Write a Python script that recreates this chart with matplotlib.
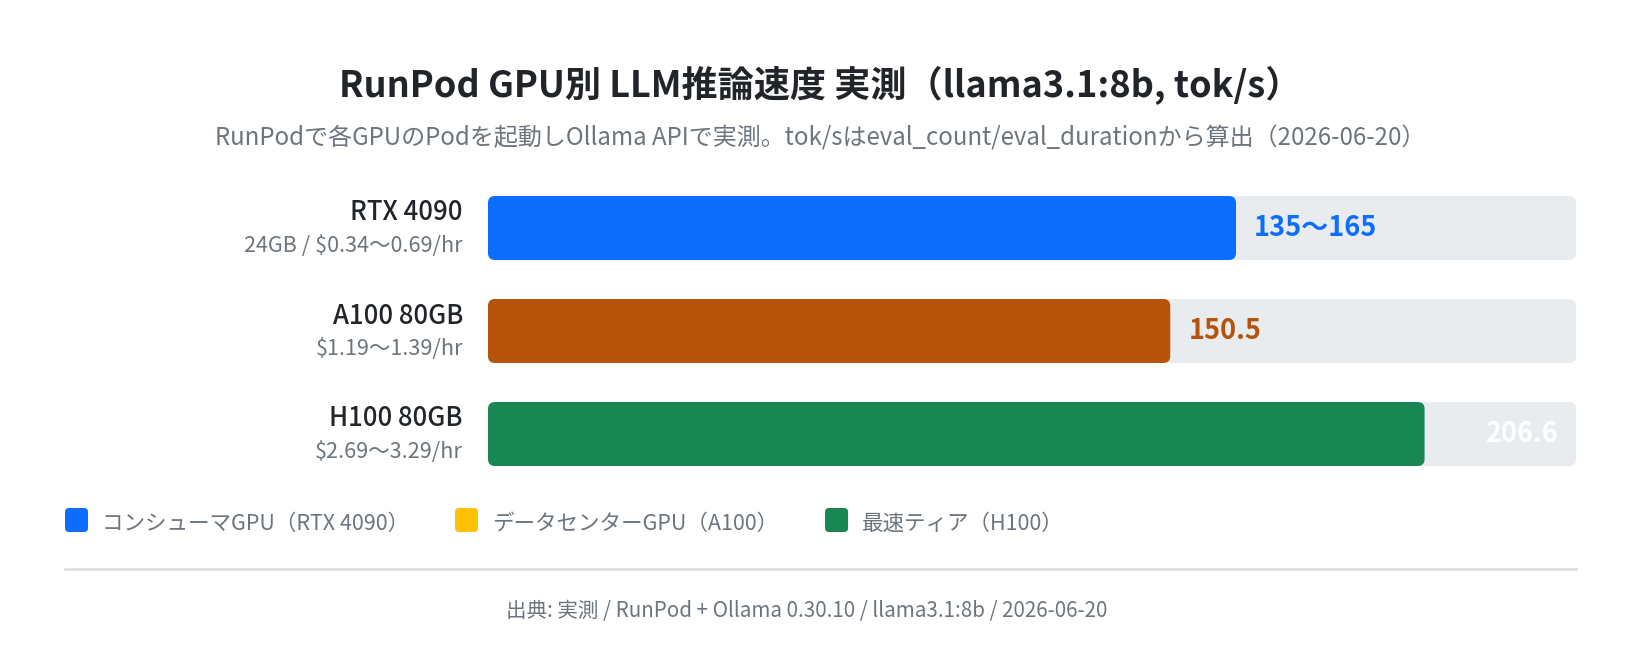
import matplotlib
matplotlib.use("Agg")
import matplotlib.pyplot as plt
from matplotlib.patches import FancyBboxPatch

plt.rcParams['font.family'] = ['Noto Sans CJK JP', 'DejaVu Sans']

# データ
gpus = ["RTX 4090", "A100 80GB", "H100 80GB"]
specs = ["24GB / $0.34〜0.69/hr", "$1.19〜1.39/hr", "$2.69〜3.29/hr"]
speed_min = [135, 150.5, 206.6]
speed_max = [165, 150.5, 206.6]
bar_colors = ["#0d6efd", "#b45309", "#198754"]
legend_labels = ["コンシューマGPU（RTX 4090）", "データセンターGPU（A100）", "最速ティア（H100）"]
legend_colors = ["#0d6efd", "#ffc107", "#198754"]
x_max = 240

title = "RunPod GPU別 LLM推論速度 実測（llama3.1:8b, tok/s）"
subtitle = "RunPodで各GPUのPodを起動しOllama APIで実測。tok/sはeval_count/eval_durationから算出（2026-06-20）"
footer = "出典: 実測 / RunPod + Ollama 0.30.10 / llama3.1:8b / 2026-06-20"

W, H = 1640, 662
fig = plt.figure(figsize=(W / 100, H / 100), dpi=100)
fig.patch.set_facecolor("white")

# 棒グラフ用の軸 (px 488..1576, 196..466)
left, right, top, bottom = 488, 1576, 196, 466
ax = fig.add_axes([left / W, 1 - bottom / H, (right - left) / W, (bottom - top) / H])
row_px = 103
bar_h = 64 / row_px
ax.set_xlim(0, x_max)
ax.set_ylim(len(gpus) - 1 + bar_h / 2, -bar_h / 2)
ax.axis("off")

px_x = (right - left) / x_max  # x 1単位あたりのピクセル


def rounded(bar, color, r=7):
    x, y, w, h = bar.get_x(), bar.get_y(), bar.get_width(), bar.get_height()
    bar.remove()
    rx = r / px_x
    ry = r / row_px
    p = FancyBboxPatch((x, y), w, h,
                       boxstyle=f"round,pad=0,rounding_size={rx}",
                       mutation_aspect=ry / rx,
                       facecolor=color, edgecolor="none")
    ax.add_patch(p)


ypos = list(range(len(gpus)))
tracks = ax.barh(ypos, [x_max] * len(gpus), height=bar_h)
for b in tracks:
    rounded(b, "#e9ecef")
bars = ax.barh(ypos, speed_max, height=bar_h)
for b, c in zip(bars, bar_colors):
    rounded(b, c)

# 値ラベル
for i in ypos:
    if speed_min[i] == speed_max[i]:
        label = f"{speed_max[i]}"
    else:
        label = f"{speed_min[i]}〜{speed_max[i]}"
    if speed_max[i] / x_max > 0.8:
        ax.text(x_max - 18 / px_x, i, label, ha="right", va="center",
                fontsize=19.5, fontweight="bold", color="white")
    else:
        ax.text(speed_max[i] + 18 / px_x, i, label, ha="left", va="center",
                fontsize=19.5, fontweight="bold", color=bar_colors[i])

# GPU名ラベル
lab_x = (463 - left) / (right - left)
for i in ypos:
    ax.text(lab_x, i - 15 / row_px, gpus[i], transform=ax.get_yaxis_transform(),
            ha="right", va="center", fontsize=18.5, fontweight="medium",
            color="#212529")
    ax.text(lab_x, i + 18 / row_px, specs[i], transform=ax.get_yaxis_transform(),
            ha="right", va="center", fontsize=15.5, color="#6c757d")

# 全体用オーバーレイ (ピクセル座標)
ov = fig.add_axes([0, 0, 1, 1], zorder=-1)
ov.set_xlim(0, W)
ov.set_ylim(H, 0)
ov.axis("off")

ov.text(W / 2, 97, title, ha="center", va="baseline", fontsize=26,
        fontweight="bold", color="#212529")
ov.text(W / 2, 145, subtitle, ha="center", va="baseline", fontsize=17.3,
        color="#6c757d")

# 凡例
sq_x = [65, 455, 825]
for x0, lab, c in zip(sq_x, legend_labels, legend_colors):
    ov.add_patch(FancyBboxPatch((x0, 508), 23, 24,
                                boxstyle="round,pad=0,rounding_size=4",
                                facecolor=c, edgecolor="none"))
    ov.text(x0 + 37, 530, lab, ha="left", va="baseline", fontsize=15.5,
            color="#6c757d")

# 区切り線とフッター
ov.plot([65, 1576], [569, 569], color="#dee2e6", lw=2)
ov.text(807, 617, footer, ha="center", va="baseline", fontsize=14.8,
        color="#6c757d")

fig.savefig("out.png", dpi=100, facecolor="white")
